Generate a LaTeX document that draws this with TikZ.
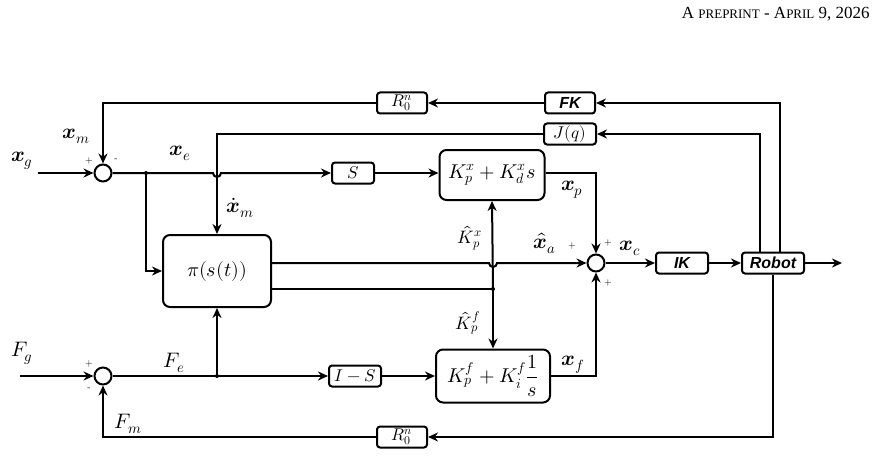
\documentclass[tikz,border=0pt]{standalone}
\usepackage{amsmath}
\usepackage{fontspec}
\usepackage{unicode-math}
\setmathfont{Latin Modern Math}
\newfontfamily\hv{Liberation Sans}
\newfontfamily\tms{Liberation Serif}
\usetikzlibrary{arrows.meta}
\begin{document}
\begin{tikzpicture}[x=1pt,y=-1pt,line width=2pt,>={Stealth[length=10pt,width=9pt]},
  blk/.style={draw,rounded corners=3pt,minimum height=21pt,inner sep=2pt,font=\fontsize{17}{19}\selectfont},
  big/.style={draw,rounded corners=7pt,inner sep=3pt,font=\fontsize{20}{22}\selectfont},
  sum/.style={draw,circle,minimum size=17pt,inner sep=0pt},
  hvb/.style={font=\hv\bfseries\itshape\fontsize{16}{18}\selectfont},
  lab/.style={font=\fontsize{21}{23}\selectfont,inner sep=1pt},
  sg/.style={font=\fontsize{10}{11}\selectfont,inner sep=0pt},
  dot/.style={circle,fill,inner sep=0pt,minimum size=4pt}]
\useasboundingbox (0,0) rectangle (880,468);
\node[anchor=east,font=\tms\fontsize{17}{19}\selectfont] (hdr) at (874,14) {A {\fontsize{13}{15}\selectfont PREPRINT} - A{\fontsize{13}{15}\selectfont PRIL} 9, 2026};
% nodes
\node[sum] (s1) at (103,173) {};
\node[sum] (s2) at (596,263) {};
\node[sum] (s3) at (103,376) {};
\node[blk,minimum width=50pt] (R1) at (402,103) {$R_0^n$};
\node[blk,minimum width=50pt,hvb] (FK) at (570,103) {FK};
\node[blk,minimum width=52pt] (J) at (570,134) {$J(q)$};
\node[blk,minimum width=42pt] (S) at (353,173) {$S$};
\node[big,minimum width=105pt,minimum height=50pt,inner sep=1pt] (Kx) at (492,175) {$K_p^x+K_d^xs$};
\node[big,minimum width=108pt,minimum height=72pt] (pi) at (217,271) {$\pi(s(t))$};
\node[blk,minimum width=52pt,hvb] (IK) at (682,263) {IK};
\node[blk,minimum width=62pt,hvb] (rob) at (773,263) {Robot};
\node[blk,minimum width=52pt,inner sep=1pt] (IS) at (355,376) {$I-S$};
\node[big,minimum width=114pt,minimum height=53pt,inner sep=1pt] (Kf) at (493,376) {$K_p^f+K_i^f\dfrac{1}{s}$};
\node[blk,minimum width=50pt] (R2) at (402,437) {$R_0^n$};
\coordinate (in1) at (38,173);
\coordinate (in2) at (20,376);
\coordinate (out) at (842,263);
\coordinate (b1) at (146,173);
\coordinate (b2) at (217,376);
\coordinate (b3) at (493,289);
% connections
\draw[->] (in1) -- (s1);
\draw[->] (in2) -- (s3);
\draw[->] (FK) -- (R1);
\draw[->] (R1.west) -| (s1.north);
\draw[->] (J.west) -| (pi.north);
\draw[->] (s1.east) -- (213,173) arc (180:0:4) -- (S.west);
\node[dot] at (b1) {};
\draw[->] (b1) |- (pi.west);
\draw[->] (S) -- (Kx.west |- S);
\draw[->] (Kx.east |- S) -| (s2.north);
\draw[->] (pi.east |- 0,263) -- (489,263) arc (180:0:4) -- (s2.west);
\draw (pi.east |- b3) -- (b3);
\node[dot] at (b3) {};
\draw[->] (b3) -- (Kx.south);
\draw[->] (b3) -- (Kf.north);
\draw[->] (s2) -- (IK);
\draw[->] (IK) -- (rob);
\draw[->] (rob) -- (out);
\draw[->] (rob.north -| 780,0) |- (FK.east);
\draw[->] (rob.north -| 760,0) |- (J.east);
\draw[->] (rob.south) |- (R2.east);
\draw[->] (R2.west) -| (s3.south);
\draw[->] (s3) -- (IS);
\node[dot] at (b2) {};
\draw[->] (b2) -- (pi.south);
\draw[->] (IS) -- (Kf);
\draw[->] (Kf.east) -| (s2.south);
% labels
\node[lab] (lxg) at (22,161) {$\symbfit{x}_g$};
\node[lab] (lxm) at (76,136) {$\symbfit{x}_m$};
\node[lab] (lxe) at (180,153) {$\symbfit{x}_e$};
\node[lab] (lxmd) at (240,208) {$\dot{\symbfit{x}}_m$};
\node[lab,font=\fontsize{18}{20}\selectfont] (lkx) at (470,238) {$\hat K_p^x$};
\node[lab,font=\fontsize{18}{20}\selectfont] (lkf) at (468,323) {$\hat K_p^f$};
\node[lab] (lxa) at (545,243) {$\hat{\symbfit{x}}_a$};
\node[lab] (lxp) at (572,190) {$\symbfit{x}_p$};
\node[lab] (lxc) at (630,248) {$\symbfit{x}_c$};
\node[lab] (lxf) at (573,365) {$\symbfit{x}_f$};
\node[lab] (lfg) at (22,353) {$F_g$};
\node[lab] (lfe) at (174,363) {$F_e$};
\node[lab] (lfm) at (128,424) {$F_m$};
\node[sg] at (89,161) {+};
\node[sg] at (116,160) {-};
\node[sg] at (572,246) {+};
\node[sg] at (608,243) {+};
\node[sg] at (608,283) {+};
\node[sg] at (89,364) {+};
\node[sg] at (89,389) {-};
\end{tikzpicture}
\end{document}
